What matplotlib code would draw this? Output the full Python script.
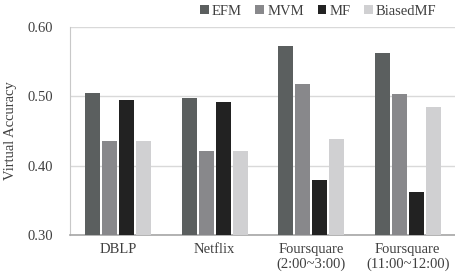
import matplotlib
matplotlib.use("Agg")
import matplotlib.pyplot as plt
import numpy as np

categories = ["DBLP", "Netflix", "Foursquare\n(2:00~3:00)", "Foursquare\n(11:00~12:00)"]
series_names = ["EFM", "MVM", "MF", "BiasedMF"]
efm = [0.505, 0.497, 0.573, 0.562]
mvm = [0.435, 0.421, 0.518, 0.503]
mf = [0.494, 0.492, 0.380, 0.362]
biasedmf = [0.435, 0.421, 0.438, 0.485]
yticks = [0.30, 0.40, 0.50, 0.60]

colors = ["#5b5f5f", "#88888b", "#222222", "#d0d0d2"]

plt.rcParams['font.family'] = ['Liberation Serif', 'DejaVu Serif']

fig = plt.figure(figsize=(4.56, 2.73), dpi=100)
ax = fig.add_axes([70/456, 38/273, (456-70)/456, 208/273])

x = np.arange(len(categories))
step = 0.176
width = 0.158
for i, (vals, name, c) in enumerate(zip([efm, mvm, mf, biasedmf], series_names, colors)):
    ax.bar(x + (i - 1.5) * step, vals, width, color=c, label=name, zorder=3)

ax.set_xlim(-0.5, 3.5)
ax.set_ylim(0.30, 0.60)
ax.set_yticks(yticks)
ax.set_yticklabels([f"{v:.2f}" for v in yticks], fontsize=10.5, color="#404040")
ax.set_xticks(x)
ax.set_xticklabels(categories, fontsize=10.5, color="#404040", linespacing=1.1)
ax.tick_params(length=0, pad=6)
ax.tick_params(axis='y', pad=12)
ax.grid(axis='y', color="#d9d9d9", linewidth=1, zorder=0)
for s in ["top", "right"]:
    ax.spines[s].set_visible(False)
ax.spines["left"].set_color("#c8c8c8")
ax.spines["bottom"].set_color("#a6a6a6")
ax.spines["bottom"].set_linewidth(1.2)
ax.set_ylabel("Virtual Accuracy", fontsize=10.5, color="#404040", labelpad=8)

fig.legend(loc="upper right", bbox_to_anchor=(0.983, 1.025), ncol=4, frameon=False,
           fontsize=10.5, handlelength=0.6, handleheight=0.6, handletextpad=0.2,
           columnspacing=0.95, borderpad=0.3, labelcolor="#404040")

fig.savefig("out.png", dpi=100)
